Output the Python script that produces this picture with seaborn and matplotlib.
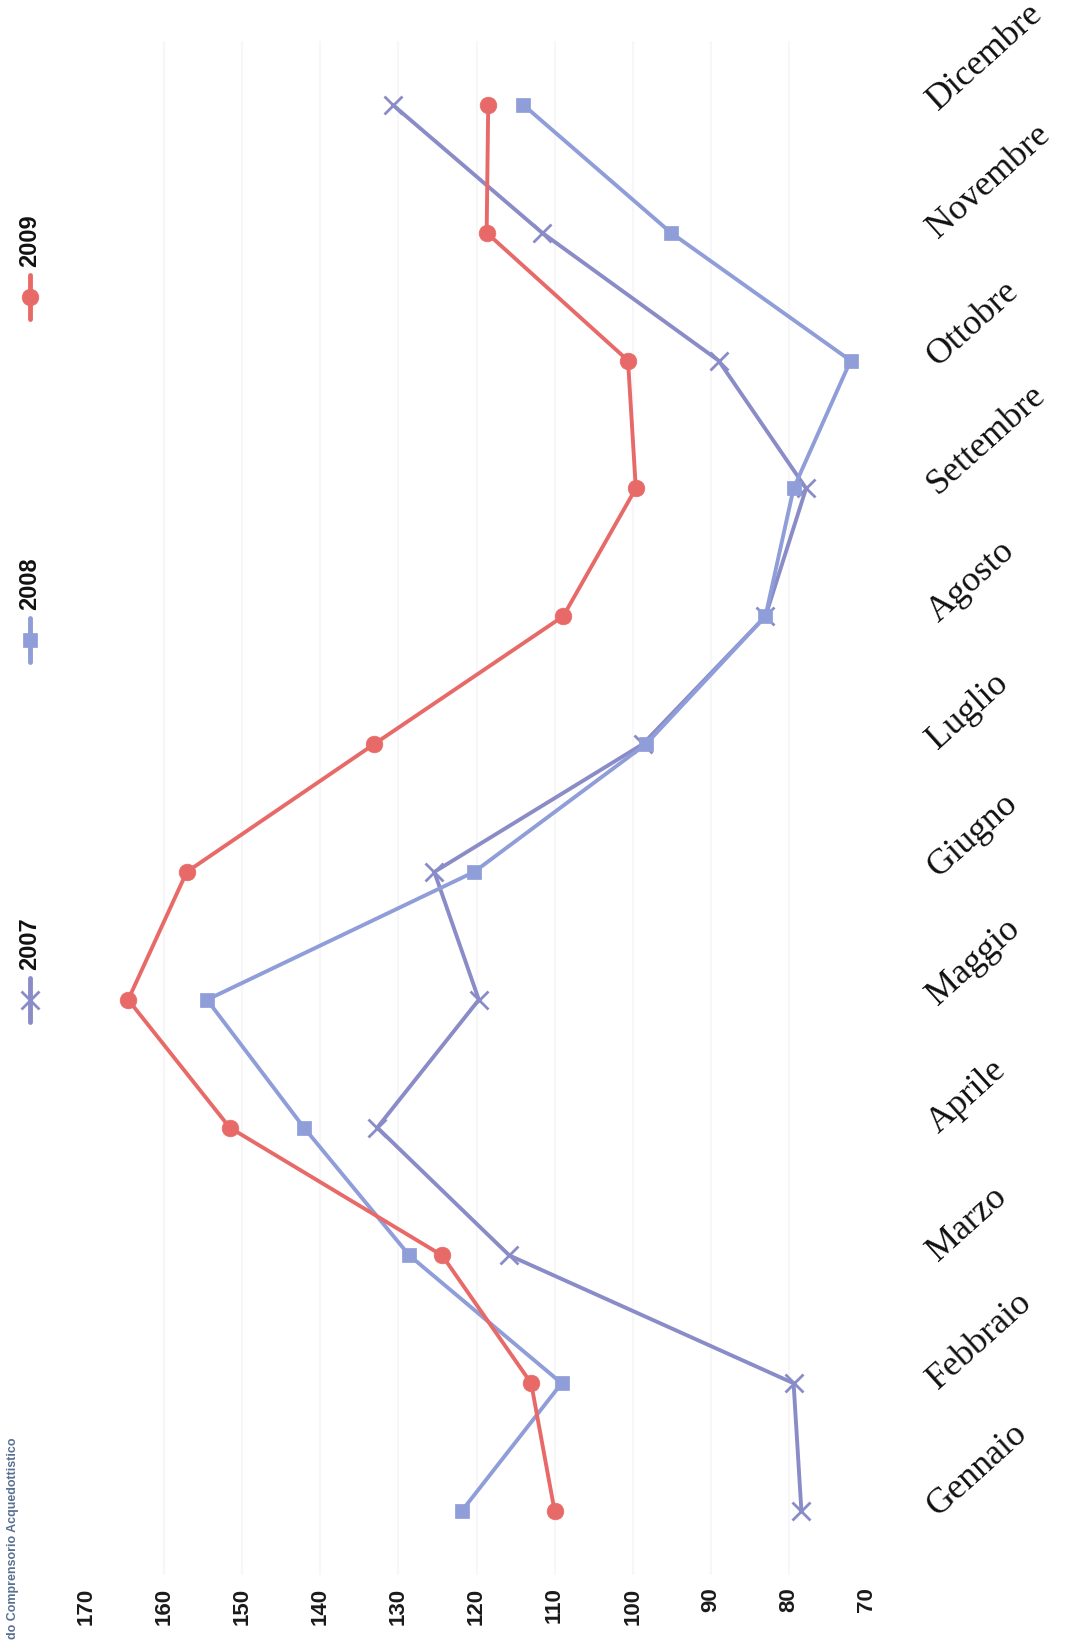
import matplotlib
matplotlib.use("Agg")
import matplotlib.pyplot as plt
import seaborn as sns
import pandas as pd
from matplotlib.lines import Line2D

months = ['Gennaio', 'Febbraio', 'Marzo', 'Aprile', 'Maggio', 'Giugno',
          'Luglio', 'Agosto', 'Settembre', 'Ottobre', 'Novembre', 'Dicembre']
years = ['2007', '2008', '2009']
v2007 = [78.4, 79.4, 115.8, 132.7, 119.7, 125.4, 98.7, 83.0, 77.8, 89.0, 111.6, 130.7]
v2008 = [121.9, 109.1, 128.6, 142.1, 154.5, 120.3, 98.3, 83.0, 79.4, 72.1, 95.1, 114.0]
v2009 = [110.0, 113.0, 124.4, 151.6, 164.6, 157.1, 133.1, 108.9, 99.6, 100.6, 118.7, 118.5]
xticks = [170, 160, 150, 140, 130, 120, 110, 100, 90, 80, 70]
title_text = "do Comprensorio Acquedottistico"

colors = {'2007': '#8a8cc8', '2008': '#8f9dd8', '2009': '#e86a68'}
markers = {'2007': 'x', '2008': 's', '2009': 'o'}
msizes = {'2007': 13, '2008': 10, '2009': 12}

rows = []
for y, vals in zip(years, [v2007, v2008, v2009]):
    for i, v in enumerate(vals):
        rows.append({'year': y, 'idx': i, 'value': v})
df = pd.DataFrame(rows)

sns.set_theme(style="white")
plt.rcParams['font.family'] = ['Liberation Sans Narrow', 'Liberation Sans', 'DejaVu Sans']

W, H = 1072, 1641
fig = plt.figure(figsize=(W / 100, H / 100), dpi=100)
fig.patch.set_facecolor('white')
ax = fig.add_axes([86 / W, (H - 1575) / H, (867 - 86) / W, (1575 - 41) / H])
ax.set_facecolor('white')

# very faint grid
for t in xticks[1:-1]:
    ax.axvline(t, color='#f7f7f9', lw=1.5, zorder=0)

for y in years:
    sub = df[df['year'] == y]
    sns.lineplot(data=sub, x='value', y='idx', orient='y', sort=False,
                 color=colors[y], marker=markers[y], markersize=msizes[y],
                 markeredgewidth=2 if y == '2007' else 0.5,
                 markeredgecolor=colors[y],
                 linewidth=2.8, ax=ax, legend=False)

ax.set_xlim(170, 70)
ax.set_ylim(-0.5, 11.5)
ax.set_xticks(xticks)
ax.set_xticklabels([str(t) for t in xticks], rotation=90, fontsize=16,
                   fontweight='semibold', color='#1a1a1a', va='top', ha='center')
ax.tick_params(axis='x', length=0, pad=9)
ax.set_yticks(range(12))
ax.yaxis.tick_right()
ax.set_yticklabels(months, rotation=42, rotation_mode='anchor', ha='left',
                   va='center', fontsize=26, family='Liberation Serif', color='#111111')
ax.tick_params(axis='y', length=0, pad=47)
ax.set_xlabel('')
ax.set_ylabel('')
for s in ax.spines.values():
    s.set_visible(False)

# legend (rotated)
legend_pos = {'2007': 1000, '2008': 640, '2009': 297}
for y in years:
    yc = legend_pos[y]
    line = Line2D([30 / W, 30 / W], [(H - yc - 22) / H, (H - yc + 22) / H],
                  transform=fig.transFigure, color=colors[y], lw=3.5)
    fig.add_artist(line)
    mk = Line2D([30 / W], [(H - yc) / H], transform=fig.transFigure,
                color=colors[y], marker=markers[y], markersize=msizes[y],
                markeredgewidth=2 if y == '2007' else 0.5, markeredgecolor=colors[y],
                linestyle='none')
    fig.add_artist(mk)
    fig.text(30 / W, (H - yc + 30) / H, y, rotation=90, ha='center', va='bottom',
             fontsize=17, fontweight='semibold', color='#111111')

fig.text(13 / W, 2 / H, title_text, rotation=90, ha='center', va='bottom',
         fontsize=9, fontweight='bold', color='#5a7090')

fig.savefig('out.png', dpi=100, facecolor='white')
